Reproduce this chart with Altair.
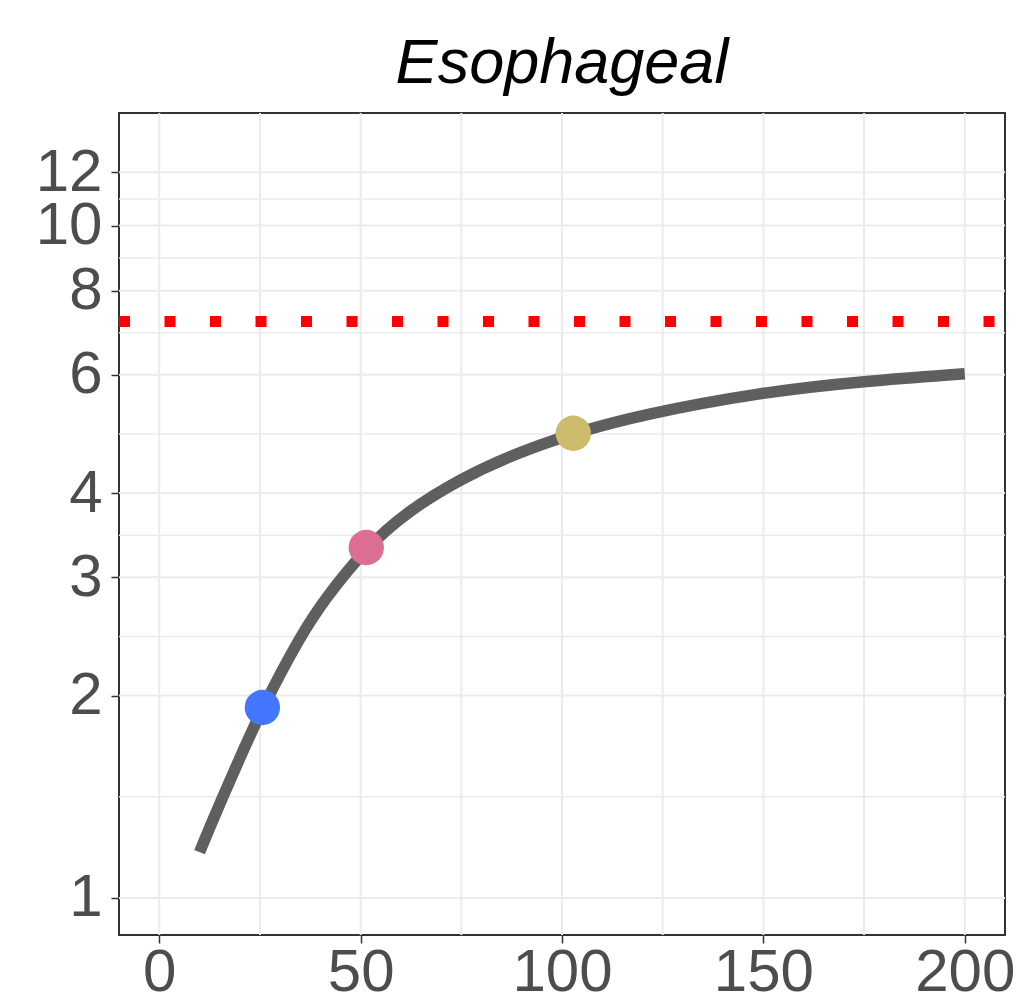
import altair as alt
import pandas as pd

# Curve values
curve_x = [10, 12.7, 15.7, 19.3, 25.6, 35, 41, 51.4, 61.4, 75, 88.8, 102.8, 119.4, 150, 175, 200]
curve_y = [1.17, 1.28, 1.41, 1.58, 1.92, 2.45, 2.78, 3.32, 3.75, 4.21, 4.59, 4.91, 5.23, 5.66, 5.87, 6.02]

# Highlighted points
pt_x = [25.6, 51.4, 102.8]
pt_y = [1.92, 3.32, 4.91]
pt_color = ["#4477FF", "#DD6E93", "#CCBC6B"]

# Reference (dotted red) level
ref_level = [7.2]

# Axis ticks / gridlines
x_ticks = [0, 50, 100, 150, 200]
x_grid = [0, 25, 50, 75, 100, 125, 150, 175, 200]
y_ticks = [1, 2, 3, 4, 6, 8, 10, 12]
y_minor = [1.414, 2.449, 3.464, 4.899, 6.928, 8.944, 10.954]

FONT = "Liberation Sans"
x_dom = [-10, 210]
y_dom = [0.881, 14.7]

xs = alt.Scale(domain=x_dom, nice=False, zero=False)
ys = alt.Scale(type="log", domain=y_dom, nice=False)

curve_df = pd.DataFrame({"x": curve_x, "y": curve_y})
pt_df = pd.DataFrame({"x": pt_x, "y": pt_y, "c": pt_color})

vgrid = alt.Chart(pd.DataFrame({"x": x_grid})).mark_rule(
    color="#EBEBEB", strokeWidth=2
).encode(x=alt.X("x:Q", scale=xs))

hgrid_major = alt.Chart(pd.DataFrame({"y": y_ticks})).mark_rule(
    color="#EBEBEB", strokeWidth=2
).encode(y=alt.Y("y:Q", scale=ys))

hgrid_minor = alt.Chart(pd.DataFrame({"y": y_minor})).mark_rule(
    color="#EBEBEB", strokeWidth=1.5
).encode(y=alt.Y("y:Q", scale=ys))

ref = alt.Chart(pd.DataFrame({"y": ref_level})).mark_rule(
    color="#FF0000", strokeWidth=11, strokeDash=[11, 34.5], strokeCap="butt"
).encode(
    y=alt.Y("y:Q", scale=ys),
    x=alt.datum(x_dom[0], scale=xs),
    x2=alt.datum(x_dom[1]),
)

line = alt.Chart(curve_df).mark_line(
    color="#5F5F5F", strokeWidth=11.5, interpolate="basis", strokeCap="butt"
).encode(
    x=alt.X(
        "x:Q", scale=xs,
        axis=alt.Axis(values=x_ticks, title=None, grid=False, domain=False,
                      tickSize=8, tickWidth=1.5, tickColor="#333333",
                      labelFontSize=60, labelFont=FONT, labelColor="#4D4D4D",
                      labelPadding=0, labelFlush=False, labelOverlap=False,
                      format="d"),
    ),
    y=alt.Y(
        "y:Q", scale=ys,
        axis=alt.Axis(values=y_ticks, title=None, grid=False, domain=False,
                      tickSize=8, tickWidth=1.5, tickColor="#333333",
                      labelFontSize=60, labelFont=FONT, labelColor="#4D4D4D",
                      labelPadding=9, labelOverlap=False, format="d"),
    ),
)

points = alt.Chart(pt_df).mark_circle(size=1250, opacity=1).encode(
    x=alt.X("x:Q", scale=xs),
    y=alt.Y("y:Q", scale=ys),
    color=alt.Color("c:N", scale=None),
)

chart = alt.layer(vgrid, hgrid_major, hgrid_minor, ref, line, points).properties(
    width=886,
    height=822,
    background="white",
    padding={"left": 119, "top": 113, "right": 19, "bottom": 73},
    autosize=alt.AutoSizeParams(type="none"),
    title=alt.TitleParams(
        "Esophageal", fontSize=63, fontStyle="italic", fontWeight="normal",
        font=FONT, color="black", anchor="middle", frame="group",
        offset=16,
    ),
).configure_view(
    stroke="#333333", strokeWidth=2
)

chart.save("out.html", embed_options={"renderer": "svg", "actions": False})
